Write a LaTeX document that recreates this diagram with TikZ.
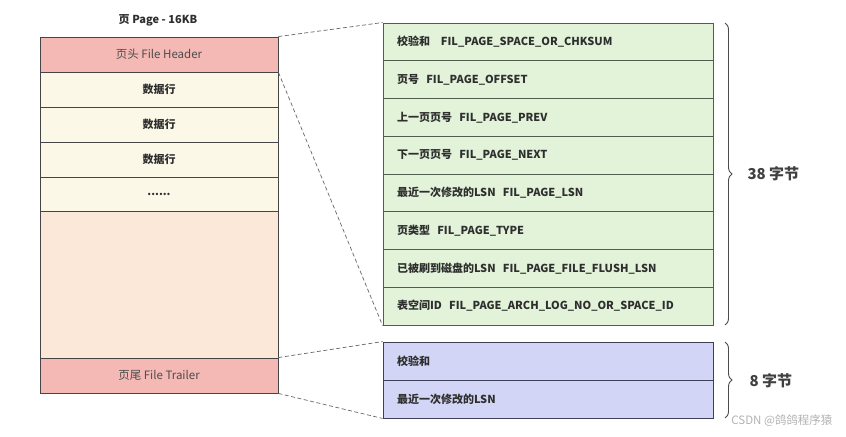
\documentclass[tikz,border=0pt]{standalone}
\usepackage{fontspec}
\setmainfont{Noto Sans CJK SC}
\usetikzlibrary{decorations.pathreplacing}
\definecolor{hdrfill}{HTML}{F4B8B5}
\definecolor{rowfill}{HTML}{FCF8E8}
\definecolor{freefill}{HTML}{FBE8D9}
\definecolor{greenfill}{HTML}{E2F3DA}
\definecolor{bluefill}{HTML}{D3D5F6}
\definecolor{boxline}{HTML}{454545}
\definecolor{greenline}{HTML}{4F5F4F}
\definecolor{blueline}{HTML}{3F3F55}
\definecolor{txt}{HTML}{2E2E2E}
\begin{document}
\begin{tikzpicture}[x=1bp,y=-1bp,
  leftbox/.style={draw=boxline,line width=0.9bp,minimum width=238bp,inner sep=0pt,font=\fontsize{11.5bp}{13bp}\selectfont,text=txt},
  hdrbox/.style={leftbox,fill=hdrfill,text=black!70,minimum height=35bp},
  rowbox/.style={leftbox,fill=rowfill,font=\fontsize{11bp}{13bp}\selectfont\bfseries,minimum height=35bp},
  fieldbox/.style={draw=greenline,fill=greenfill,line width=0.9bp,text width=302bp,inner xsep=14bp,inner ysep=0pt,align=left,minimum height=37.75bp,font=\fontsize{11bp}{13bp}\selectfont\bfseries,text=txt},
  tfieldbox/.style={fieldbox,draw=blueline,fill=bluefill,minimum height=38bp},
  link/.style={draw=black!60,dashed,line width=0.7bp,dash pattern=on 4bp off 2.5bp},
  bracestyle/.style={draw=black!70,line width=0.9bp,decorate,decoration={brace,amplitude=7bp}},
  sizelabel/.style={anchor=west,font=\fontsize{15bp}{17bp}\selectfont\bfseries,text=black!75},
]
\useasboundingbox (0,0) rectangle (846,437);
\fill[white] (0,0) rectangle (846,437);

\node[font=\fontsize{11bp}{13bp}\selectfont\bfseries,text=txt] (title) at (158,20) {页 Page - 16KB};

\node[hdrbox] (hdr) at (159,54.5) {页头 File Header};
\node[rowbox] (r1) at (159,89.5) {数据行};
\node[rowbox] (r2) at (159,124.5) {数据行};
\node[rowbox] (r3) at (159,159.5) {数据行};
\node[rowbox,minimum height=34bp] (r4) at (159,194) {\raisebox{-2bp}{......}};
\node[leftbox,fill=freefill,minimum height=147bp] (free) at (159,284.5) {};
\node[hdrbox] (trl) at (159,375.5) {页尾 File Trailer};

\node[fieldbox] (g1) at (548,41.875) {校验和\ \ \ FIL\_PAGE\_SPACE\_OR\_CHKSUM};
\node[fieldbox] (g2) at (548,79.625) {页号\ \ FIL\_PAGE\_OFFSET};
\node[fieldbox] (g3) at (548,117.375) {上一页页号\ \ FIL\_PAGE\_PREV};
\node[fieldbox] (g4) at (548,155.125) {下一页页号\ \ FIL\_PAGE\_NEXT};
\node[fieldbox] (g5) at (548,192.875) {最近一次修改的LSN\ \ FIL\_PAGE\_LSN};
\node[fieldbox] (g6) at (548,230.625) {页类型\ \ FIL\_PAGE\_TYPE};
\node[fieldbox] (g7) at (548,268.375) {已被刷到磁盘的LSN\ \ FIL\_PAGE\_FILE\_FLUSH\_LSN};
\node[fieldbox] (g8) at (548,306.125) {表空间ID\ \ FIL\_PAGE\_ARCH\_LOG\_NO\_OR\_SPACE\_ID};

\node[tfieldbox] (b1) at (548,361) {校验和};
\node[tfieldbox] (b2) at (548,399) {最近一次修改的LSN};

\draw[link] (hdr.north east) -- (g1.north west);
\draw[link] (hdr.south east) -- (g8.south west);
\draw[link] (trl.north east) -- (b1.north west);
\draw[link] (trl.south east) -- (b2.south west);

\coordinate (br1a) at (725,23);
\coordinate (br1b) at (725,325);
\coordinate (br2a) at (725,342);
\coordinate (br2b) at (725,418);
\draw[bracestyle] (br1a) -- (br1b);
\draw[bracestyle] (br2a) -- (br2b);
\node[sizelabel] (s38) at (744,174) {38 字节};
\node[sizelabel] (s8) at (746,381) {8 字节};

\node[anchor=east,font=\fontsize{11.5bp}{13bp}\selectfont,text=black!30] (wm) at (836,421) {CSDN @鸽鸽程序猿};
\end{tikzpicture}
\end{document}
